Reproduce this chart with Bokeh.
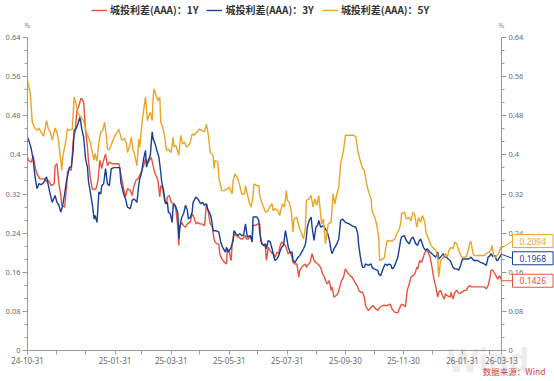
import pandas as pd
from bokeh.plotting import figure
from bokeh.models import (Range1d, LinearAxis, FixedTicker, NumeralTickFormatter,
                          Legend, LegendItem, Label, Arrow)
from bokeh.embed import file_html
from bokeh.resources import INLINE

# ---------------- data ----------------
base_date = "2024-10-31"          # day 0 of the series
series_names = ["城投利差(AAA)：1Y", "城投利差(AAA)：3Y", "城投利差(AAA)：5Y"]
series_colors = ["#e4553c", "#173f94", "#e9a626"]

# (days since base_date, spread %)
spread_1y = [(0,.395),(1,.389),(4,.385),(6,.399),(8,.375),(10,.361),(13,.351),(15,.351),(18,.351),(20,.345),(22,.348),(25,.337),(28,.341),(29,.378),(31,.382),(33,.341),(35,.317),(36,.297),(39,.293),(41,.334),(42,.365),(44,.372),(46,.368),(48,.43),(50,.447),(52,.491),(54,.5),(56,.515),(57,.515),(59,.508),(61,.45),(63,.416),(64,.389),(66,.354),(68,.331),(70,.329),(72,.331),(74,.347),(76,.389),(78,.372),(79,.382),(82,.402),(84,.378),(86,.385),(89,.382),(92,.382),(96,.382),
(98,.361),(101,.331),(103,.314),(105,.331),(108,.327),(110,.317),(112,.337),(114,.348),(116,.351),(118,.358),(120,.368),(122,.378),(124,.392),(126,.382),(127,.385),(130,.395),(132,.378),(133,.368),(135,.358),(137,.348),(139,.314),(140,.337),(142,.331),(144,.307),(146,.3),(147,.314),(149,.317),(151,.303),(153,.3),(154,.3),(156,.286),(158,.252),(159,.215),(160,.252),(162,.262),(164,.255),(166,.252),(168,.259),(170,.262),(171,.262),(173,.28),(175,.272),(177,.259),(179,.262),(181,.259),(183,.259),(186,.255),(188,.3),(190,.283),(192,.259),(194,.255),(196,.228),
(197,.222),(199,.218),(201,.218),(202,.198),(204,.188),(207,.18),(209,.177),(210,.208),(212,.201),(214,.184),(215,.218),(217,.239),(219,.235),(222,.232),(224,.228),(226,.228),(229,.235),(230,.228),(232,.228),(234,.235),(236,.225),(237,.256),(240,.256),(242,.259),(244,.259),(245,.225),(247,.218),(250,.211),(251,.184),(253,.211),(255,.204),(257,.198),(258,.201),(260,.19),(262,.201),(264,.198),(265,.211),(267,.222),(269,.218),(271,.215),(272,.208),(274,.198),(276,.201),(278,.19),(279,.18),(281,.177),(283,.177),(285,.15),(286,.164),(288,.17),(290,.174),(292,.177),(293,.17),
(294,.174),(297,.18),(299,.198),(301,.184),(303,.18),(305,.177),(308,.17),(310,.157),(312,.15),(313,.143),(315,.136),(317,.143),(319,.123),(320,.13),(322,.109),(324,.112),(326,.116),(327,.123),(329,.136),(330,.143),(332,.15),(334,.167),(336,.16),(339,.153),(341,.15),(343,.143),(345,.136),(347,.13),(348,.123),(350,.119),(352,.119),(354,.109),(355,.092),(358,.082),(361,.088),(363,.092),(366,.085),(368,.082),(370,.088),(373,.092),(375,.092),(378,.092),(381,.095),(383,.085),(386,.078),(389,.077),(390,.082),
(393,.095),(396,.092),(397,.089),(399,.123),(401,.136),(403,.15),(405,.153),(407,.157),(409,.17),(410,.167),(412,.184),(414,.18),(416,.191),(417,.198),(419,.205),(421,.201),(423,.191),(425,.17),(427,.146),(429,.13),(431,.109),(432,.119),(434,.123),(436,.112),(438,.105),(439,.116),(441,.112),(444,.109),(445,.119),(447,.105),(449,.119),(451,.123),(452,.119),(454,.116),(456,.119),(459,.123),(461,.123),(463,.13),(465,.133),(466,.13),(469,.13),(473,.13),(476,.13),(480,.13),(482,.126),(484,.133),(486,.15),(487,.164),(489,.164),(491,.157),(493,.15),(494,.146),(496,.153),(498,.1426)]

spread_3y = [(0,.436),(2,.426),(4,.412),(6,.389),(8,.354),(10,.331),(12,.341),(14,.339),(16,.341),(18,.347),(20,.355),(22,.337),(23,.327),(26,.303),(29,.317),(31,.303),(33,.297),(35,.283),(37,.297),(39,.32),(41,.347),(43,.365),(44,.375),(46,.375),(48,.409),(49,.45),(51,.453),(53,.463),(55,.477),(56,.467),(57,.453),(59,.436),(61,.392),(63,.375),(64,.347),(66,.324),(68,.3),(70,.269),(71,.276),(73,.262),(75,.324),(77,.32),(78,.337),(80,.341),(82,.372),(84,.341),(86,.337),(88,.372),(91,.374),(94,.374),(97,.374),
(98,.345),(101,.32),(103,.31),(105,.293),(108,.29),(110,.307),(112,.31),(115,.303),(117,.341),(118,.351),(120,.365),(122,.392),(124,.409),(125,.375),(127,.389),(129,.399),(131,.447),(132,.433),(134,.423),(136,.409),(138,.396),(140,.365),(141,.345),(143,.327),(145,.3),(147,.303),(148,.283),(150,.28),(152,.262),(153,.297),(154,.3),(156,.293),(158,.28),(159,.228),(160,.252),(162,.272),(164,.28),(166,.297),(168,.286),(169,.269),(171,.272),(173,.283),(174,.303),(177,.314),(179,.31),(181,.303),(182,.3),(184,.303),(186,.297),(188,.3),(189,.29),(191,.283),(193,.272),(195,.245),
(198,.245),(201,.242),(203,.222),(205,.211),(208,.201),(209,.211),(211,.201),(214,.211),(216,.225),(217,.245),(219,.239),(221,.235),(223,.239),(225,.235),(227,.235),(229,.259),(231,.232),(234,.235),(236,.222),(237,.273),(239,.273),(241,.273),(243,.266),(244,.242),(246,.218),(248,.215),(250,.218),(251,.208),(253,.225),(255,.222),(257,.208),(258,.198),(260,.184),(262,.187),(264,.194),(265,.201),(267,.211),(269,.215),(271,.245),(272,.235),(274,.211),(276,.201),(278,.201),(279,.184),(281,.18),(284,.19),(286,.194),(288,.201),(290,.208),(292,.218),(293,.232),
(294,.252),(296,.266),(298,.273),(299,.252),(301,.225),(303,.252),(305,.257),(306,.266),(308,.252),(310,.255),(312,.252),(315,.242),(317,.228),(319,.2045),(320,.198),(322,.208),(325,.218),(327,.228),(329,.266),(331,.269),(334,.262),(338,.259),(341,.255),(345,.252),(347,.239),(348,.215),(350,.188),(352,.17),(354,.17),(355,.177),(358,.174),(361,.177),(362,.17),(364,.167),(368,.164),(369,.157),(371,.153),(373,.164),(375,.174),(376,.177),(378,.174),(380,.177),(382,.174),(383,.167),(385,.17),(387,.18),(389,.19),(390,.201),(392,.225),
(393,.232),(396,.235),(398,.225),(401,.218),(403,.228),(405,.232),(408,.218),(410,.215),(411,.222),(413,.228),(416,.211),(418,.205),(420,.208),(423,.201),(425,.198),(427,.194),(429,.191),(431,.201),(432,.187),(434,.191),(437,.198),(438,.191),(440,.191),(442,.187),(444,.184),(445,.18),(447,.17),(449,.167),(451,.167),(453,.164),(455,.174),(457,.187),(459,.187),(461,.187),(463,.187),(465,.189),(466,.191),(469,.184),(473,.184),(476,.18),(480,.177),(482,.174),(484,.191),(486,.194),(487,.198),(489,.192),(491,.194),(493,.184),(494,.184),(496,.191),(498,.1968)]

spread_5y = [(0,.552),(3,.525),(5,.467),(7,.457),(10,.45),(12,.455),(14,.447),(17,.438),(20,.47),(22,.452),(24,.447),(26,.43),(29,.455),(31,.447),(33,.423),(36,.368),(37,.395),(40,.426),(42,.453),(44,.45),(47,.452),(49,.518),(51,.505),(53,.485),(56,.477),(59,.47),(61,.452),(64,.436),(66,.426),(68,.405),(70,.389),(71,.403),(73,.387),(75,.426),(77,.447),(79,.45),(81,.467),(83,.436),(84,.412),(86,.41),(89,.426),(92,.44),(96,.452),
(99,.43),(102,.433),(104,.423),(105,.405),(107,.416),(109,.436),(111,.409),(112,.405),(115,.378),(117,.433),(118,.416),(120,.46),(122,.491),(124,.518),(126,.47),(127,.477),(129,.487),(131,.47),(132,.518),(133,.535),(135,.522),(137,.511),(139,.518),(140,.467),(142,.457),(144,.44),(146,.409),(148,.412),(151,.405),(153,.436),(154,.416),(156,.419),(159,.399),(161,.44),(163,.423),(165,.426),(167,.416),(169,.419),(171,.426),(173,.443),(175,.44),(178,.447),(181,.453),(183,.45),(186,.447),(188,.463),(190,.44),(192,.405),(195,.399),(196,.372),
(197,.389),(200,.385),(201,.354),(204,.327),(207,.327),(210,.331),(212,.334),(215,.32),(216,.347),(218,.361),(221,.351),(223,.337),(225,.32),(228,.32),(229,.337),(231,.32),(233,.303),(235,.293),(237,.317),(238,.341),(241,.337),(243,.337),(244,.317),(246,.303),(248,.293),(250,.283),(253,.286),(254,.293),(257,.3),(258,.286),(260,.29),(263,.286),(265,.276),(266,.286),(268,.3),(270,.293),(272,.327),(273,.307),(275,.303),(277,.286),(279,.242),(280,.269),(283,.272),(285,.255),(286,.249),(288,.239),(290,.228),(292,.252),(293,.307),
(296,.31),(298,.317),(300,.293),(302,.31),(304,.297),(306,.317),(309,.259),(311,.269),(313,.218),(316,.259),(319,.262),(321,.32),(323,.3),(325,.32),(327,.334),(329,.382),(332,.409),(334,.44),(336,.44),(340,.44),(343,.44),(345,.436),(347,.409),(349,.392),(352,.372),(354,.368),(356,.344),(358,.327),(361,.31),(362,.286),(365,.272),(367,.256),(369,.232),(370,.184),(373,.187),(375,.19),(376,.2045),(378,.225),(381,.224),(383,.224),(386,.228),(388,.239),(390,.245),(392,.259),
(393,.28),(396,.283),(398,.269),(401,.272),(403,.265),(405,.283),(407,.276),(409,.252),(411,.272),(413,.262),(415,.276),(417,.265),(419,.239),(422,.225),(424,.215),(427,.208),(429,.205),(431,.191),(432,.15),(434,.184),(437,.191),(439,.198),(441,.191),(443,.205),(445,.211),(447,.208),(449,.222),(451,.218),(453,.205),(456,.191),(458,.191),(461,.191),(463,.205),(465,.222),(466,.222),(468,.198),(470,.194),(473,.194),(476,.194),(480,.194),(482,.198),(485,.201),(487,.205),(488,.215),(490,.191),(492,.191),(493,.194),(495,.198),(497,.211),(498,.2094)]

end_values = ["0.1426", "0.1968", "0.2094"]

tick_dates = ["2024-10-31", "2024-11-30", "2024-12-31", "2025-01-31", "2025-02-28",
              "2025-03-31", "2025-04-30", "2025-05-31", "2025-06-30", "2025-07-31",
              "2025-08-31", "2025-09-30", "2025-10-31", "2025-11-30", "2025-12-31",
              "2026-01-31", "2026-02-28", "2026-03-13"]
tick_labels = ["24-10-31", "", "", "25-01-31", "", "25-03-31", "", "25-05-31", "",
               "25-07-31", "", "25-09-30", "", "25-11-30", "", "26-01-31", "", "26-03-13"]
y_ticks = [0, 0.08, 0.16, 0.24, 0.32, 0.4, 0.48, 0.56, 0.64]
y_max = 0.64

# ---------------- layout (pixels inside the canvas) ----------------
W, H = 554, 381
PAD_L, PAD_R, PAD_T, PAD_B = 27, 53, 37, 31     # axis lines sit this far from the canvas edges
FW, FH = W - PAD_L - PAD_R, H - PAD_T - PAD_B   # 474 x 313 plotting box

base = pd.Timestamp(base_date)
tick_days = [(pd.Timestamp(d) - base).days for d in tick_dates]
x_end = tick_days[-1]
px_day = x_end / FW
px_val = y_max / FH

p = figure(width=W, height=H,
           x_range=Range1d(-PAD_L * px_day, x_end + PAD_R * px_day),
           y_range=Range1d(-PAD_B * px_val, y_max + PAD_T * px_val),
           output_backend="svg", toolbar_location=None,
           min_border=0, min_border_left=0, min_border_right=0,
           min_border_top=0, min_border_bottom=0)
p.xgrid.visible = False
p.ygrid.visible = False
p.outline_line_color = None
p.background_fill_color = "white"
p.border_fill_color = "white"

AX = "#9a9a9a"
LBL = "#6b6b6b"
FONT = "Noto Sans"

def style_axis(ax, size="8px"):
    ax.axis_line_color = AX
    ax.major_tick_line_color = AX
    ax.minor_tick_line_color = AX
    ax.major_tick_in = 0
    ax.major_tick_out = 5
    ax.minor_tick_in = 0
    ax.minor_tick_out = 3
    ax.major_label_text_color = LBL
    ax.major_label_text_font = FONT
    ax.major_label_text_font_size = size
    ax.major_label_standoff = 2

step = y_max / 24
y_minor = [round(i * step, 6) for i in range(0, 25)]
yticker = FixedTicker(ticks=y_ticks, minor_ticks=y_minor)
yfmt = NumeralTickFormatter(format="0.[00]")

ly = p.yaxis[0]
ly.ticker = yticker
ly.formatter = yfmt
ly.fixed_location = 0
ly.bounds = (0, y_max)
style_axis(ly, "7.5px")

ry = LinearAxis(ticker=yticker, formatter=yfmt, fixed_location=x_end, bounds=(0, y_max))
style_axis(ry, "7.5px")
p.add_layout(ry, "right")

xa = p.xaxis[0]
xa.ticker = FixedTicker(ticks=tick_days, minor_ticks=[])
xa.major_label_overrides = {d: lab for d, lab in zip(tick_days, tick_labels)}
xa.fixed_location = 0
xa.bounds = (0, x_end)
style_axis(xa, "8px")
xa.major_tick_out = 4

# watermark (under everything), kept inside the canvas
p.add_layout(Label(x=x_end, y=0, x_offset=-54, y_offset=-30, text="Wind",
                   text_font=FONT, text_font_size="32px", text_font_style="bold",
                   text_color="#ececec", text_baseline="bottom", text_align="left",
                   level="underlay"))

renderers = []
for data, col in zip([spread_1y, spread_3y, spread_5y], series_colors):
    xs = [d for d, v in data]
    ys = [v for d, v in data]
    r = p.line(xs, ys, line_color=col, line_width=1.4)
    renderers.append(r)

legend = Legend(items=[LegendItem(label=n, renderers=[r]) for n, r in zip(series_names, renderers)],
                orientation="horizontal", location=(91, H - 17),
                glyph_width=16, glyph_height=12, label_standoff=3, spacing=8,
                padding=0, margin=0, label_text_font="Noto Sans CJK SC",
                label_text_font_size="10px", label_text_font_style="bold",
                label_text_color="#333333",
                label_height=12, border_line_alpha=0, background_fill_alpha=0)
p.add_layout(legend)

# "%" unit labels above both axes
for xv in (0, x_end):
    p.add_layout(Label(x=xv, y=y_max, y_offset=12, text="%", text_font=FONT,
                       text_font_size="7px", text_color="#8a8a8a",
                       text_align="center", text_baseline="middle"))

# end-value boxes with leader lines
box_shift = [0, -4, 7]   # px vertical shift of each box
for data, col, txt, sh in zip([spread_1y, spread_3y, spread_5y], series_colors, end_values, box_shift):
    last_d, last_v = data[-1]
    p.add_layout(Arrow(end=None, x_start=last_d, y_start=last_v,
                       x_end=last_d + 11 * px_day, y_end=last_v + sh * px_val,
                       line_color=col, line_width=1))
    p.add_layout(Label(x=last_d, y=last_v, x_offset=11, y_offset=sh, text=txt,
                       text_font=FONT, text_font_size="8.5px", text_color=col,
                       text_align="left", text_baseline="middle",
                       border_line_color=col, border_line_width=1,
                       background_fill_color="white", padding=(7, 3)))

# source note
p.add_layout(Label(x=x_end, y=0, x_offset=44, y_offset=-20, text="数据来源：Wind",
                   text_font="Noto Sans CJK SC", text_font_size="8.5px",
                   text_color="#d0453a", text_align="right", text_baseline="middle"))

open("out.html", "w").write(file_html(p, INLINE))
